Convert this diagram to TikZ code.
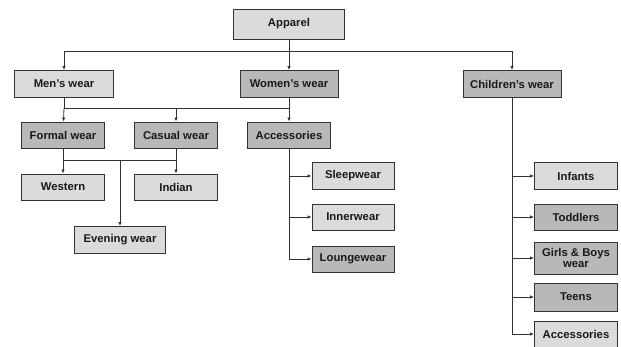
\documentclass[tikz,border=0pt]{standalone}
\usepackage{fontspec}
\setmainfont{Liberation Sans}
\usetikzlibrary{arrows.meta, positioning}

\begin{document}
\begin{tikzpicture}[
    x=1pt, y=-1pt,
    box/.style={rectangle, draw=black!80, line width=0.9pt, minimum width=83, minimum height=26,
      inner sep=1pt, align=center, text=black!90, font=\fontsize{11.3}{11.5}\selectfont\bfseries},
    light/.style={box, fill=black!14},
    dark/.style={box, fill=black!28},
    link/.style={draw=black!80, line width=0.8pt},
    arrow/.style={link, -{Latex[length=4pt, width=3.5pt]}}
  ]
    \useasboundingbox (0,0) rectangle (621,347);
    % top level
    \node[light, minimum width=111, minimum height=30] (app) at (289,24) {Apparel};
    \node[light, minimum width=99, minimum height=27] (men) at (64,84) {Men's wear};
    \node[dark, minimum width=98, minimum height=27] (wom) at (289,84) {Women's wear};
    \node[dark, minimum width=98, minimum height=27] (kid) at (512,84) {Children's wear};
    % men's wear
    \node[dark] (formal) at (63,135) {Formal wear};
    \node[dark] (casual) at (176,135) {Casual wear};
    \node[light] (western) at (63,187) {Western};
    \node[light] (indian) at (176,187) {Indian};
    \node[light, minimum width=91, minimum height=27] (evening) at (120,240) {Evening wear};
    % women's wear
    \node[dark] (wacc) at (289,135) {Accessories};
    \node[light, minimum width=82, minimum height=27] (sleep) at (353,176) {Sleepwear};
    \node[light, minimum width=82] (inner) at (353,217) {Innerwear};
    \node[dark, minimum width=82] (lounge) at (353,259) {Loungewear};
    % children's wear
    \node[light, minimum height=27] (infant) at (576,176) {Infants};
    \node[dark] (toddler) at (576,217) {Toddlers};
    \node[dark, minimum height=32] (girlboy) at (576,258) {Girls \& Boys\\wear};
    \node[dark, minimum height=28] (teen) at (576,297) {Teens};
    \node[light] (kacc) at (576,334) {Accessories};

    \coordinate (tj) at (289,51);
    \coordinate (mj) at (64,108);
    \coordinate (fj) at (63,160);

    \draw[arrow] (app) -- (wom);
    \draw[arrow] (tj) -| (men.north);
    \draw[arrow] (tj) -| (kid.north);

    \draw[link] (men.south) -- (mj) -- (mj -| wom);
    \draw[arrow] (mj) -- (formal);
    \draw[arrow] (mj -| casual) -- (casual);
    \draw[arrow] (wom) -- (wacc);

    \draw[link] (formal) -- (fj) -- (fj -| casual);
    \draw[arrow] (fj) -- (western);
    \draw[arrow] (casual) -- (indian);
    \draw[arrow] (fj -| evening) -- (evening);

    \foreach \n in {sleep, inner, lounge}
      \draw[arrow] (wacc.south) |- (\n.west);
    \foreach \n in {infant, toddler, girlboy, teen, kacc}
      \draw[arrow] (kid.south) |- (\n.west);
  \end{tikzpicture}
\end{document}
